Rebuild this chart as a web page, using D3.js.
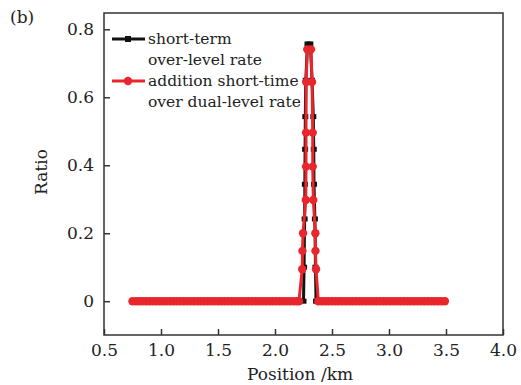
<!DOCTYPE html>
<html>
<head>
<meta charset="utf-8">
<script src="https://cdn.jsdelivr.net/npm/d3@7"></script>
<style>
  body { margin: 0; background: #fff; }
  text { font-family: "DejaVu Serif", serif; fill: #222; }
</style>
</head>
<body>
<div id="chart"></div>
<script>
// zero-valued stretches on either side of the spike (km)
var leftZeros = [0.75,0.78,0.81,0.84,0.87,0.90,0.93,0.96,0.99,1.02,1.05,1.08,1.11,1.14,1.17,1.20,1.23,1.26,1.29,1.32,
                 1.35,1.38,1.41,1.44,1.47,1.50,1.53,1.56,1.59,1.62,1.65,1.68,1.71,1.74,1.77,1.80,1.83,1.86,1.89,1.92,
                 1.95,1.98,2.01,2.04,2.07,2.10,2.13,2.16,2.19];
var rightZeros = [2.38,2.41,2.44,2.47,2.50,2.53,2.56,2.59,2.62,2.65,2.68,2.71,2.74,2.77,2.80,2.83,2.86,2.89,2.92,2.95,
                  2.98,3.01,3.04,3.07,3.10,3.13,3.16,3.19,3.22,3.25,3.28,3.31,3.34,3.37,3.40,3.43,3.46,3.49];

// spike of the short-term over-level rate
var shortPos = [2.21, 2.25, 2.255, 2.26, 2.262, 2.264, 2.266, 2.27, 2.285, 2.31, 2.325, 2.336, 2.34, 2.342, 2.35, 2.355, 2.36];
var shortVal = [0,    0,    0.10,  0.242, 0.344, 0.447, 0.543, 0.65, 0.757, 0.757, 0.65, 0.543, 0.447, 0.344, 0.242, 0.10, 0];

// spike of the addition short-time over dual-level rate
var addPos = [2.21, 2.239, 2.241, 2.246, 2.27, 2.272, 2.272, 2.274, 2.283, 2.316, 2.325, 2.331, 2.331, 2.336, 2.354, 2.355, 2.36];
var addVal = [0,    0.094, 0.148, 0.20,  0.298, 0.396, 0.496, 0.645, 0.741, 0.741, 0.645, 0.496, 0.396, 0.298, 0.20, 0.148, 0.094];

var xTicks = [0.5, 1.0, 1.5, 2.0, 2.5, 3.0, 3.5, 4.0];
var yTicks = [0, 0.2, 0.4, 0.6, 0.8];

function init(){
    var w = 521, h = 385;
    var left = 104, right = 503, top = 13, bottom = 335;
    var red = "#e8262b";

    function join(pos, val){
        var pts = leftZeros.map(function(x){ return [x, 0]; });
        pos.forEach(function(x, i){ pts.push([x, val[i]]); });
        rightZeros.forEach(function(x){ pts.push([x, 0]); });
        return pts;
    }
    var shortData = join(shortPos, shortVal);
    var addData = join(addPos, addVal);

    var xScale = d3.scaleLinear().domain([0.5, 4.0]).range([left, right]);
    var yScale = d3.scaleLinear().domain([-0.0995, 0.848]).range([bottom, top]);

    var svg = d3.select("#chart").append("svg")
                .attr("width", w)
                .attr("height", h);

    // axes with inward ticks
    var xAxis = d3.axisBottom(xScale).tickValues(xTicks).tickSize(-6).tickPadding(9)
                  .tickFormat(d3.format(".1f"));
    var yAxis = d3.axisLeft(yScale).tickValues(yTicks).tickSize(-6).tickPadding(9)
                  .tickFormat(function(d){ return d === 0 ? "0" : d3.format(".1f")(d); });

    var gx = svg.append("g").attr("transform", "translate(0," + bottom + ")").call(xAxis);
    var gy = svg.append("g").attr("transform", "translate(" + left + ",0)").call(yAxis);
    [gx, gy].forEach(function(g){
        g.select(".domain").remove();
        g.selectAll(".tick line").attr("stroke", "#333").attr("stroke-width", 1.5);
        g.selectAll(".tick text").attr("font-size", 17).attr("font-family", "DejaVu Serif").attr("fill", "#222");
    });
    gy.selectAll(".tick text").attr("dx", -1);

    // frame
    svg.append("rect")
        .attr("x", left).attr("y", top)
        .attr("width", right - left).attr("height", bottom - top)
        .attr("fill", "none").attr("stroke", "#333").attr("stroke-width", 1.5);

    var line = d3.line()
                 .x(function(d){ return xScale(d[0]); })
                 .y(function(d){ return yScale(d[1]); });

    // short-term series (black squares)
    svg.append("path").datum(shortData)
        .attr("d", line).attr("fill", "none")
        .attr("stroke", "#111").attr("stroke-width", 3);
    svg.append("g").selectAll("rect")
        .data(shortData).enter().append("rect")
        .attr("x", function(d){ return xScale(d[0]) - 3; })
        .attr("y", function(d){ return yScale(d[1]) - 2.5; })
        .attr("width", 6).attr("height", 5)
        .attr("fill", "#111");

    // addition series (red circles)
    svg.append("path").datum(addData)
        .attr("d", line).attr("fill", "none")
        .attr("stroke", red).attr("stroke-width", 3);
    svg.append("g").selectAll("circle")
        .data(addData).enter().append("circle")
        .attr("cx", function(d){ return xScale(d[0]); })
        .attr("cy", function(d){ return yScale(d[1]); })
        .attr("r", 4.2)
        .attr("fill", red);

    // legend
    var lg = svg.append("g");
    lg.append("line").attr("x1", 112).attr("x2", 145).attr("y1", 39).attr("y2", 39)
      .attr("stroke", "#111").attr("stroke-width", 3);
    lg.append("rect").attr("x", 125).attr("y", 36).attr("width", 6).attr("height", 6).attr("fill", "#111");
    lg.append("line").attr("x1", 112).attr("x2", 145).attr("y1", 81).attr("y2", 81)
      .attr("stroke", red).attr("stroke-width", 3);
    lg.append("circle").attr("cx", 128).attr("cy", 81).attr("r", 4.2).attr("fill", red);

    var legendText = [["short-term", 44], ["over-level rate", 65], ["addition short-time", 86], ["over dual-level rate", 107]];
    lg.selectAll("text").data(legendText).enter().append("text")
      .attr("x", 148).attr("y", function(d){ return d[1]; })
      .attr("font-size", 15.5)
      .text(function(d){ return d[0]; });

    // labels
    svg.append("text").attr("x", 10).attr("y", 23).attr("font-size", 17).text("(b)");
    svg.append("text")
        .attr("transform", "translate(47,172) rotate(-90)")
        .attr("text-anchor", "middle").attr("font-size", 17)
        .text("Ratio");
    svg.append("text")
        .attr("x", 300).attr("y", 380)
        .attr("text-anchor", "middle").attr("font-size", 17)
        .text("Position /km");
}

window.onload = init;
</script>
</body>
</html>
